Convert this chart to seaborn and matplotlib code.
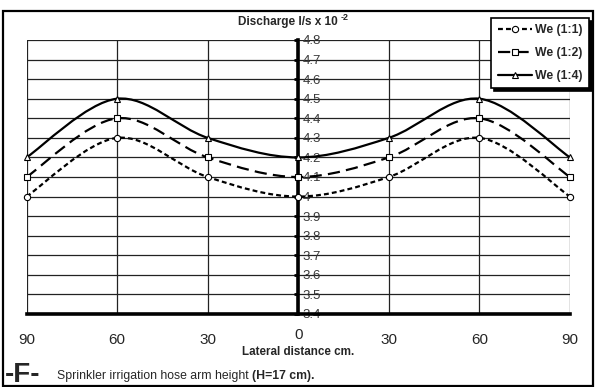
import numpy as np
import matplotlib
matplotlib.use("Agg")
import matplotlib.pyplot as plt
import matplotlib.transforms as mtransforms
import seaborn as sns
import pandas as pd
from matplotlib.path import Path
from matplotlib.patches import PathPatch, Rectangle
from matplotlib.lines import Line2D
from matplotlib.ticker import FuncFormatter

# ---- data ----
lateral = [-90, -60, -30, 0, 30, 60, 90]
we_11 = [4.0, 4.3, 4.1, 4.0, 4.1, 4.3, 4.0]
we_12 = [4.1, 4.4, 4.2, 4.1, 4.2, 4.4, 4.1]
we_14 = [4.2, 4.5, 4.3, 4.2, 4.3, 4.5, 4.2]
series_names = ["We (1:1)", "We (1:2)", "We (1:4)"]
y_ticks = [3.4, 3.5, 3.6, 3.7, 3.8, 3.9, 4.0, 4.1, 4.2, 4.3, 4.4, 4.5, 4.6, 4.7, 4.8]

sns.set_style("white")
plt.rcParams['font.family'] = ['Liberation Sans', 'DejaVu Sans']

fig = plt.figure(figsize=(5.95, 3.87), dpi=100)
ax = fig.add_axes([26.5/595, 1-314/387, (570-26.5)/595, (314-40)/387])

styles = [
    dict(ls=(0, (2.2, 1.4)), marker='o', ms=4.5),
    dict(ls=(0, (5.5, 2.8)), marker='s', ms=4.5),
    dict(ls='-', marker='^', ms=4),
]

def smooth_path(xs, ys):
    pts = np.column_stack([xs, ys]).astype(float)
    n = len(pts)
    verts = [pts[0]]
    codes = [Path.MOVETO]
    for i in range(n - 1):
        p0 = pts[i - 1] if i > 0 else pts[i]
        p1 = pts[i]
        p2 = pts[i + 1]
        p3 = pts[i + 2] if i + 2 < n else pts[i + 1]
        c1 = p1 + (p2 - p0) / 6.0
        c2 = p2 - (p3 - p1) / 6.0
        verts += [c1, c2, p2]
        codes += [Path.CURVE4] * 3
    return Path(verts, codes)

df = pd.DataFrame({"x": lateral * 3,
                   "y": we_11 + we_12 + we_14,
                   "s": sum([[n] * len(lateral) for n in series_names], [])})

for name, vals, st in zip(series_names, [we_11, we_12, we_14], styles):
    patch = PathPatch(smooth_path(lateral, vals), fill=False, edgecolor='black',
                      lw=1.6, linestyle=st['ls'], zorder=4)
    ax.add_patch(patch)
    sub = df[df.s == name]
    sns.lineplot(data=sub, x="x", y="y", ax=ax, linestyle='none', marker=st['marker'],
                 markersize=st['ms'], markerfacecolor='white', markeredgecolor='black',
                 markeredgewidth=0.8, color='black', zorder=5, legend=False)

for ln in ax.lines:
    ln.set_clip_on(False)

ax.set_xlim(-90, 90)
ax.set_ylim(3.4, 4.8)
ax.set_xticks(lateral)
ax.set_xticklabels([str(abs(v)) if v != 0 else "" for v in lateral])
ax.set_yticks(y_ticks)
ax.yaxis.set_major_formatter(FuncFormatter(lambda v, p: f"{v:g}"))
ax.grid(True, color='#222222', lw=0.9)
ax.set_axisbelow(True)

for s in ['top', 'left']:
    ax.spines[s].set_visible(False)
ax.spines['bottom'].set_linewidth(2.6)
ax.spines['bottom'].set_color('black')
ax.yaxis.tick_right()
ax.spines['right'].set_position(('data', 0))
ax.spines['right'].set_linewidth(2.6)
ax.spines['right'].set_color('black')
ax.spines['right'].set_zorder(3)

ax.tick_params(axis='y', direction='in', length=3, width=2, pad=3, labelsize=9.5,
               colors='black')
ax.tick_params(axis='y', labelcolor='#3a3a3a')
ax.tick_params(axis='x', direction='out', length=3, width=2, pad=10.5, labelsize=11)
ax.set_xlabel("")
ax.set_ylabel("")

# zero label on x axis, slightly raised as in the original
ax.text(0, 1-335/387, "0", transform=mtransforms.blended_transform_factory(ax.transData, fig.transFigure),
        ha='center', va='center', fontsize=11)

# texts
fig.text(338/595, 1-22/387, "Discharge l/s x 10", ha='right', va='center',
         fontsize=8.5, fontweight='bold')
fig.text(341/595, 1-18/387, "-2", ha='left', va='center', fontsize=6.5, fontweight='bold')
fig.text(298/595, 1-352/387, "Lateral distance cm.", ha='center', va='center',
         fontsize=8.4, fontweight='bold')
fig.text(5/595, 1-375/387, "-F-", ha='left', va='center', fontsize=20, fontweight='bold')
t1 = fig.text(57/595, 1-376/387, "Sprinkler irrigation hose arm height ", ha='left',
              va='center', fontsize=8.8)
fig.canvas.draw()
bb = t1.get_window_extent()
fig.text(bb.x1/595, 1-376/387, "(H=17 cm).", ha='left', va='center', fontsize=8.8,
         fontweight='bold')

# legend
handles = [Line2D([], [], color='black', lw=1.6, linestyle=st['ls'], marker=st['marker'],
                  markersize=st['ms'], markerfacecolor='white', markeredgecolor='black',
                  markeredgewidth=0.8) for st in styles]
leg = fig.legend(handles, series_names, loc='upper right',
                 bbox_to_anchor=(589/595, 1-18/387), frameon=True, fancybox=False,
                 shadow={'color': 'black', 'alpha': 1}, prop={'weight': 'bold', 'size': 8.8},
                 handlelength=2.8, borderaxespad=0, labelspacing=0.9, handletextpad=0.3,
                 borderpad=0.5)
leg.get_frame().set_edgecolor('black')
leg.get_frame().set_linewidth(1.2)
leg.get_frame().set_alpha(1)

# outer frame
fig.patches.append(Rectangle((3/595, 1-386/387), 590/595, 375/387, transform=fig.transFigure,
                             fill=False, edgecolor='black', lw=1.6))

fig.savefig("out.png", dpi=100)
